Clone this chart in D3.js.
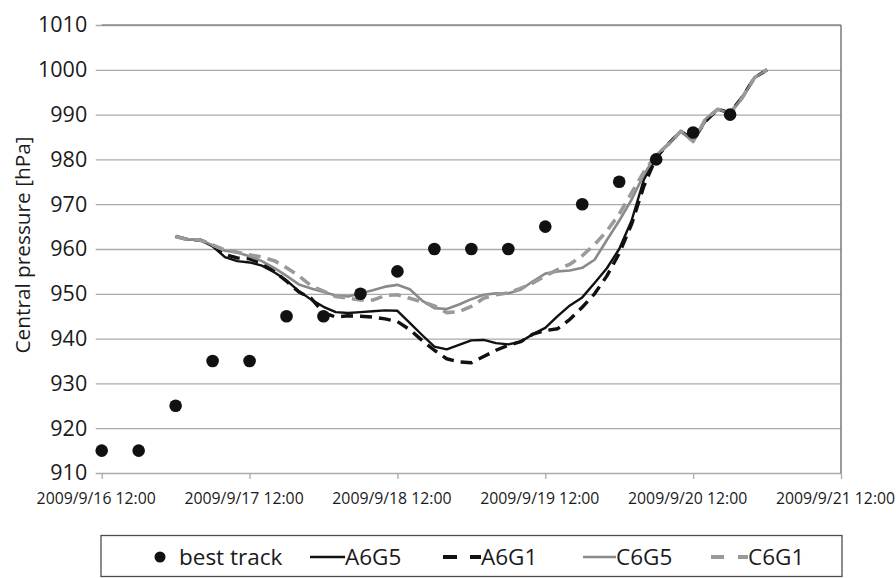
<!DOCTYPE html>
<html>
<head>
<meta charset="utf-8">
<script src="https://cdn.jsdelivr.net/npm/d3@7"></script>
<style>
  html, body { margin: 0; padding: 0; background: #fff; }
  svg { display: block; font-family: "Open Sans", "Noto Sans", sans-serif; }
</style>
</head>
<body>
<svg id="chart" width="896" height="578"></svg>
<script>
// Hours after 2009/9/16 12:00 for each x-axis label
const xTickHours = [0, 24, 48, 72, 96, 120];
const xTickLabels = ["2009/9/16 12:00", "2009/9/17 12:00", "2009/9/18 12:00",
                     "2009/9/19 12:00", "2009/9/20 12:00", "2009/9/21 12:00"];
const yTicks = [910, 920, 930, 940, 950, 960, 970, 980, 990, 1000, 1010];

// Best track (6-hourly central pressure, hPa)
const bestHours = [0, 6, 12, 18, 24, 30, 36, 42, 48, 54, 60, 66, 72, 78, 84, 90, 96, 102];
const bestTrack = [915, 915, 925, 935, 935, 945, 945, 950, 955, 960, 960, 960, 965, 970, 975, 980, 986, 990];

// Simulation output times (hours after 2009/9/16 12:00)
const modelHours = [12, 14, 16, 18, 20, 22, 24, 26, 28, 30, 32, 34, 36, 38, 40, 42, 44, 46, 48,
                    50, 52, 54, 56, 58, 60, 62, 64, 66, 68, 70, 72, 74, 76, 78, 80, 82, 84, 86,
                    88, 90, 92, 94, 96, 98, 100, 102, 104, 106, 108];

const a6g5 = [962.8, 962.1, 962.0, 960.6, 958.2, 957.3, 957.0, 956.3, 954.8, 953.0, 950.6, 948.7,
              947.1, 945.9, 945.7, 945.9, 946.1, 946.3, 946.2, 943.5, 940.8, 938.2, 937.6, 938.6,
              939.6, 939.7, 939.0, 938.7, 939.3, 941.0, 942.4, 945.0, 947.4, 949.2, 952.4, 955.7,
              960.0, 966.3, 975.5, 980.6, 983.5, 986.3, 984.3, 988.5, 991.2, 990.4, 994.0, 998.3, 1000.0];

const a6g1 = [962.8, 962.1, 962.0, 960.8, 958.8, 958.0, 957.8, 956.8, 955.0, 952.8, 950.4, 949.0,
              945.8, 944.8, 945.1, 945.0, 944.8, 944.4, 943.8, 942.0, 939.6, 937.4, 935.5, 934.8,
              934.6, 936.0, 937.4, 938.5, 939.3, 941.0, 941.8, 942.2, 944.3, 947.0, 950.0, 954.0,
              959.0, 965.5, 974.0, 980.4, 983.5, 986.3, 984.3, 988.5, 991.2, 990.4, 994.0, 998.3, 1000.0];

const c6g5 = [962.8, 962.1, 962.1, 960.8, 959.6, 959.2, 958.4, 957.3, 955.8, 954.0, 952.1, 951.2,
              950.4, 949.6, 949.4, 950.1, 950.8, 951.6, 952.0, 951.0, 948.5, 946.8, 946.6, 947.6,
              948.8, 949.8, 950.1, 950.1, 950.9, 952.8, 954.5, 955.0, 955.2, 955.8, 957.6, 962.0,
              966.3, 971.0, 976.6, 981.0, 983.4, 986.3, 984.0, 989.0, 991.2, 990.3, 993.8, 998.3, 1000.0];

const c6g1 = [962.8, 962.1, 962.0, 960.9, 959.8, 959.3, 958.7, 958.2, 957.4, 955.8, 954.0, 951.8,
              950.6, 949.4, 949.0, 948.6, 948.6, 949.6, 949.8, 949.0, 948.2, 947.3, 945.8, 946.0,
              947.2, 949.0, 949.8, 950.2, 951.2, 952.4, 954.0, 955.4, 956.6, 958.5, 961.0, 964.0,
              967.8, 972.5, 977.2, 981.0, 983.4, 986.3, 984.0, 989.0, 991.2, 990.3, 993.8, 998.3, 1000.0];

const seriesNames = ["A6G5", "A6G1", "C6G5", "C6G1"];
const seriesValues = [a6g5, a6g1, c6g5, c6g1];
const seriesStyle = {
  A6G5: { color: "#111111", width: 2.4, dash: null },
  A6G1: { color: "#111111", width: 3.4, dash: "12,7" },
  C6G5: { color: "#8a8a8a", width: 2.6, dash: null },
  C6G1: { color: "#9a9a9a", width: 3.6, dash: "12,7" }
};

const svg = d3.select("#chart");
const plotLeft = 101.7, plotRight = 841, plotTop = 25, plotBottom = 473;

const x = d3.scaleLinear().domain([0, 120]).range([plotLeft, plotRight]);
const y = d3.scaleLinear().domain([910, 1010]).range([plotBottom, plotTop]);

// Horizontal gridlines with y tick marks and labels
const yAxis = svg.append("g")
  .attr("transform", `translate(${plotLeft},0)`)
  .call(d3.axisLeft(y).tickValues(yTicks).tickFormat(d3.format("d"))
    .tickSize(-(plotRight - plotLeft)).tickSizeOuter(0));
yAxis.select(".domain").remove();
yAxis.selectAll(".tick line").attr("stroke", "#aaaaaa").attr("stroke-width", 1.3).attr("x1", -6);
yAxis.selectAll(".tick text")
  .attr("font-size", 21.5).attr("fill", "#1a1a1a")
  .attr("font-family", "'Open Sans', sans-serif")
  .attr("x", -14.5);

// Vertical gridlines with x tick marks and labels
const xAxis = svg.append("g")
  .attr("transform", `translate(0,${plotBottom})`)
  .call(d3.axisBottom(x).tickValues(xTickHours).tickFormat((d, i) => xTickLabels[i])
    .tickSize(-(plotBottom - plotTop)).tickSizeOuter(0));
xAxis.select(".domain").remove();
xAxis.selectAll(".tick line").attr("stroke", "#aaaaaa").attr("stroke-width", 1.3).attr("y2", 6);
xAxis.selectAll(".tick text")
  .attr("font-size", 15.8).attr("fill", "#1a1a1a")
  .attr("font-family", "'Open Sans', sans-serif")
  .attr("dy", null).attr("y", 31).attr("x", -6);

// Plot-area frame: top and right edges drawn darker
svg.append("line").attr("x1", plotLeft).attr("x2", plotRight).attr("y1", y(1010)).attr("y2", y(1010))
  .attr("stroke", "#8c8c8c").attr("stroke-width", 1.3);
svg.append("line").attr("x1", plotRight).attr("x2", plotRight).attr("y1", plotTop).attr("y2", plotBottom)
  .attr("stroke", "#7a7a7a").attr("stroke-width", 1.5);

// Y-axis title
svg.append("text")
  .attr("transform", `translate(30,245) rotate(-90)`)
  .attr("text-anchor", "middle")
  .attr("font-size", 20.8).attr("fill", "#1a1a1a")
  .text("Central pressure [hPa]");

// Simulated pressure curves, in series order so the C6 runs end up on top
const line = d3.line().x((d, i) => x(modelHours[i])).y(d => y(d));
seriesNames.forEach((name, k) => {
  const st = seriesStyle[name];
  svg.append("path")
    .datum(seriesValues[k])
    .attr("d", line)
    .attr("fill", "none")
    .attr("stroke", st.color)
    .attr("stroke-width", st.width)
    .attr("stroke-linejoin", "round")
    .attr("stroke-dasharray", st.dash);
});

// Best track markers
svg.append("g").selectAll("circle")
  .data(bestTrack)
  .join("circle")
  .attr("cx", (d, i) => x(bestHours[i]))
  .attr("cy", d => y(d))
  .attr("r", 6.3)
  .attr("fill", "#111111");

// Legend
const lg = svg.append("g");
lg.append("rect").attr("x", 101).attr("y", 535.5).attr("width", 741).attr("height", 41)
  .attr("fill", "#fff").attr("stroke", "#4d4d4d").attr("stroke-width", 1.3);
const ly = 557;
lg.append("circle").attr("cx", 160).attr("cy", ly).attr("r", 5.5).attr("fill", "#111");
const legendText = (tx, s) => lg.append("text").attr("x", tx).attr("y", ly).attr("dy", "0.36em")
  .attr("font-size", 22.5).attr("fill", "#1a1a1a").text(s);
legendText(179, "best track");

lg.append("line").attr("x1", 310).attr("x2", 345).attr("y1", ly).attr("y2", ly)
  .attr("stroke", "#111").attr("stroke-width", 2.4);
legendText(345, seriesNames[0]);

lg.append("line").attr("x1", 443).attr("x2", 481).attr("y1", ly).attr("y2", ly)
  .attr("stroke", "#111").attr("stroke-width", 4).attr("stroke-dasharray", "14,13");
legendText(481, seriesNames[1]);

lg.append("line").attr("x1", 583).attr("x2", 616).attr("y1", ly).attr("y2", ly)
  .attr("stroke", "#8a8a8a").attr("stroke-width", 2.4);
legendText(616, seriesNames[2]);

lg.append("line").attr("x1", 711).attr("x2", 748).attr("y1", ly).attr("y2", ly)
  .attr("stroke", "#9a9a9a").attr("stroke-width", 4).attr("stroke-dasharray", "13,14");
legendText(748, seriesNames[3]);
</script>
</body>
</html>
